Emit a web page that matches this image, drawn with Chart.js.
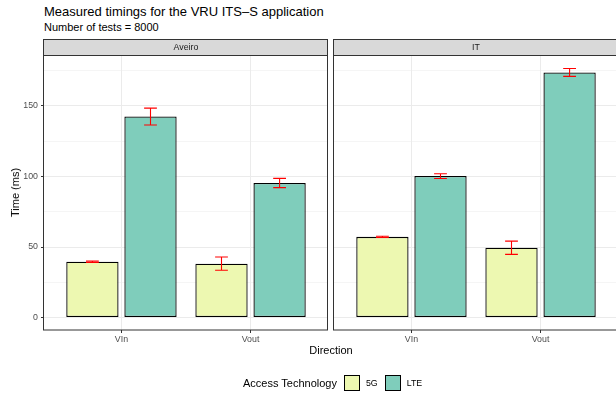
<!DOCTYPE html>
<html>
<head>
<meta charset="utf-8">
<title>VRU ITS-S timings</title>
<script src="https://cdn.jsdelivr.net/npm/chart.js@4.4.1/dist/chart.umd.min.js"></script>
<style>
    body { margin: 0; background: #fff; }
    #wrap {
        position: relative; width: 616px; height: 396px; overflow: hidden;
        font-family: "Liberation Sans", Arial, Helvetica, sans-serif; color: #000;
    }
    #wrap canvas { position: absolute; top: 0; }
    .txt { position: absolute; white-space: nowrap; line-height: 1; }
    .title { left: 44px; top: 5px; font-size: 13px; }
    .subtitle { left: 44px; top: 22px; font-size: 11px; }
    .ytitle { left: 10px; top: 168px; font-size: 11px; writing-mode: vertical-rl; transform: rotate(180deg); }
    .xtitle { left: 331px; top: 345px; font-size: 11px; transform: translateX(-50%); }
    .legend { left: 243px; top: 375px; height: 16px; display: flex; align-items: center; font-size: 11px; }
    .legend .key { width: 14px; height: 14px; border: 1px solid #000; margin: 0 6px 0 7px; }
    .legend .lab { font-size: 8.8px; color: #000; }
</style>
</head>
<body>
<div id="wrap">
    <div class="txt title">Measured timings for the VRU ITS&#8211;S application</div>
    <div class="txt subtitle">Number of tests = 8000</div>
    <canvas id="panelAveiro" width="330" height="396" style="left:0"></canvas>
    <canvas id="panelIT" width="292" height="396" style="left:330px"></canvas>
    <div class="txt ytitle">Time (ms)</div>
    <div class="txt xtitle">Direction</div>
    <div class="txt legend" id="legend"><span>Access Technology</span></div>
</div>
<script>
(function (window) {

    var directions = ['VIn', 'Vout'];
    var technologies = ['5G', 'LTE'];
    var techColors = ['#EDF8B1', '#7FCDBB'];

    // mean time (ms) and error per direction
    var aveiro5G = [39.6, 38.2];
    var aveiro5GErr = [0.5, 4.7];
    var aveiroLTE = [142.5, 95.4];
    var aveiroLTEErr = [6.0, 3.3];
    var it5G = [57.2, 49.5];
    var it5GErr = [0.4, 4.7];
    var itLTE = [100.3, 173.8];
    var itLTEErr = [1.7, 2.8];

    var yTicks = [0, 50, 100, 150];
    var yStep = 25;

    var allVals = [aveiro5G, aveiroLTE, it5G, itLTE];
    var allErrs = [aveiro5GErr, aveiroLTEErr, it5GErr, itLTEErr];
    var yTop = 0;
    allVals.forEach(function (vals, k) {
        vals.forEach(function (v, i) { yTop = Math.max(yTop, v + allErrs[k][i]); });
    });
    var yPad = yTop * 0.05;

    var gridValues = [];
    for (var g = 0; g <= yTop + yPad; g += yStep) {
        gridValues.push(g);
    }

    function points(vals) {
        return vals.map(function (v, i) { return { x: i + 1, y: v }; });
    }

    function isMajor(v) {
        return yTicks.indexOf(v) !== -1;
    }

    // strip label above the panel + grey20 panel frame
    var facetPlugin = {
        id: 'facet',
        afterDraw: function (chart) {
            var ctx = chart.ctx;
            var a = chart.chartArea;
            var label = chart.options.plugins.facet.label;
            ctx.save();
            ctx.fillStyle = '#D9D9D9';
            ctx.fillRect(a.left, a.top - 17, a.right - a.left, 17);
            ctx.strokeStyle = '#333333';
            ctx.lineWidth = 1;
            ctx.strokeRect(a.left - 0.5, a.top - 16.5, a.right - a.left, 16);
            ctx.strokeRect(a.left - 0.5, a.top - 0.5, a.right - a.left, a.bottom - a.top + 0.5);
            ctx.fillStyle = '#1A1A1A';
            ctx.font = '8.8px "Liberation Sans", Arial, sans-serif';
            ctx.textAlign = 'center';
            ctx.textBaseline = 'middle';
            ctx.fillText(label, (a.left + a.right) / 2, a.top - 8);
            ctx.restore();
        }
    };

    // red error bars on top of each bar
    var errorBarPlugin = {
        id: 'errorBars',
        afterDatasetsDraw: function (chart) {
            var ctx = chart.ctx;
            var yScale = chart.scales.y;
            var half = 6.4;
            ctx.save();
            ctx.strokeStyle = '#FF0000';
            ctx.lineWidth = 1.1;
            chart.data.datasets.forEach(function (ds, di) {
                var meta = chart.getDatasetMeta(di);
                meta.data.forEach(function (bar, i) {
                    var v = ds.data[i].y;
                    var e = ds.errors[i];
                    var y1 = yScale.getPixelForValue(v + e);
                    var y2 = yScale.getPixelForValue(v - e);
                    ctx.beginPath();
                    ctx.moveTo(bar.x, y1);
                    ctx.lineTo(bar.x, y2);
                    ctx.moveTo(bar.x - half, y1);
                    ctx.lineTo(bar.x + half, y1);
                    ctx.moveTo(bar.x - half, y2);
                    ctx.lineTo(bar.x + half, y2);
                    ctx.stroke();
                });
            });
            ctx.restore();
        }
    };

    function makePanel(canvasId, label, vals5G, errs5G, valsLTE, errsLTE, showY) {
        var ctx = document.getElementById(canvasId);
        var tickFont = { family: '"Liberation Sans", Arial, sans-serif', size: 8.8 };

        return new Chart(ctx.getContext('2d'), {
            type: 'bar',
            data: {
                datasets: [
                    {
                        label: technologies[0],
                        data: points(vals5G),
                        errors: errs5G,
                        backgroundColor: techColors[0]
                    },
                    {
                        label: technologies[1],
                        data: points(valsLTE),
                        errors: errsLTE,
                        backgroundColor: techColors[1]
                    }
                ]
            },
            options: {
                responsive: false,
                animation: false,
                devicePixelRatio: 1,
                layout: { padding: { top: 56, right: showY ? 2 : 4, bottom: 0, left: 0 } },
                datasets: {
                    bar: {
                        borderColor: '#000000',
                        borderWidth: 1.3,
                        borderSkipped: false,
                        categoryPercentage: 0.9,
                        barPercentage: 0.9
                    }
                },
                scales: {
                    x: {
                        type: 'linear',
                        offset: false,
                        min: 0.4,
                        max: directions.length + 0.6,
                        afterBuildTicks: function (scale) {
                            scale.ticks = directions.map(function (d, i) { return { value: i + 1 }; });
                        },
                        afterFit: function (scale) { scale.height = 66; },
                        border: { display: false },
                        grid: {
                            offset: false,
                            color: '#EBEBEB',
                            lineWidth: 1,
                            tickColor: '#333333',
                            tickLength: 3,
                            tickWidth: 1
                        },
                        ticks: {
                            color: '#4D4D4D',
                            font: tickFont,
                            padding: 1,
                            maxRotation: 0,
                            callback: function (value) { return directions[value - 1]; }
                        }
                    },
                    y: {
                        min: -yPad,
                        max: yTop + yPad,
                        afterBuildTicks: function (scale) {
                            scale.ticks = gridValues.map(function (v) { return { value: v }; });
                        },
                        afterFit: function (scale) { scale.width = showY ? 44 : 4; },
                        border: { display: false },
                        grid: {
                            color: '#EBEBEB',
                            lineWidth: function (c) { return isMajor(c.tick.value) ? 1 : 0.5; },
                            drawTicks: showY,
                            tickColor: function (c) { return isMajor(c.tick.value) ? '#333333' : 'rgba(0,0,0,0)'; },
                            tickLength: 3,
                            tickWidth: 1
                        },
                        ticks: {
                            display: showY,
                            autoSkip: false,
                            color: '#4D4D4D',
                            font: tickFont,
                            padding: 3,
                            callback: function (value) { return isMajor(value) ? String(value) : ''; }
                        }
                    }
                },
                plugins: {
                    legend: { display: false },
                    tooltip: { enabled: false },
                    facet: { label: label }
                }
            },
            plugins: [errorBarPlugin, facetPlugin]
        });
    }

    function buildLegend() {
        var legend = document.getElementById('legend');
        technologies.forEach(function (t, i) {
            var key = document.createElement('span');
            key.className = 'key';
            key.style.background = techColors[i];
            var lab = document.createElement('span');
            lab.className = 'lab';
            lab.textContent = t;
            legend.appendChild(key);
            legend.appendChild(lab);
        });
    }

    function initialize() {
        makePanel('panelAveiro', 'Aveiro', aveiro5G, aveiro5GErr, aveiroLTE, aveiroLTEErr, true);
        makePanel('panelIT', 'IT', it5G, it5GErr, itLTE, itLTEErr, false);
        buildLegend();
    }

    document.addEventListener('DOMContentLoaded', initialize);

})(window);
</script>
</body>
</html>
